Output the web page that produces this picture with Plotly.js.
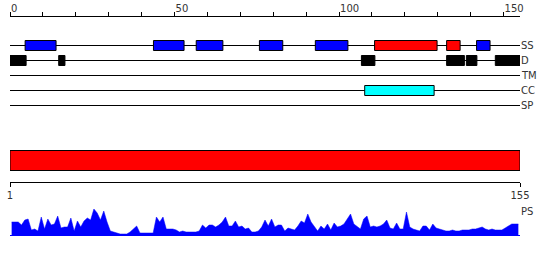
<!DOCTYPE html>
<html><head><meta charset="utf-8">
<script src="https://cdn.plot.ly/plotly-3.0.1.min.js"></script>
<style>html,body{margin:0;padding:0;background:#fff}#chart{width:550px;height:260px}</style>
</head><body><div id="chart"></div>
<script>
// ---- data ----
const trackNames = ['SS', 'D', 'TM', 'CC', 'SP'];
const seqLength = 155;
const topTickVals = [0, 10, 20, 30, 40, 50, 60, 70, 80, 90, 100, 110, 120, 130, 140, 150];
const topTickText = ['0', '', '', '', '', '50', '', '', '', '', '100', '', '', '', '', '150'];
const bottomTickVals = [1, 155];

const ssStart = [4.6, 43.6, 56.6, 75.8, 92.8, 110.8, 132.7, 141.8];
const ssEnd   = [14.0, 52.9, 64.7, 82.9, 102.7, 129.8, 136.8, 145.9];
const ssColor = ['#0000ff', '#0000ff', '#0000ff', '#0000ff', '#0000ff', '#ff0000', '#ff0000', '#0000ff'];

const dStart = [0, 14.8, 106.8, 132.7, 138.7, 147.5];
const dEnd   = [4.9, 16.7, 110.9, 138.1, 141.9, 155];

const ccStart = [107.8];
const ccEnd   = [128.9];

const domainStart = [1];
const domainEnd   = [155];

const psValues = [
  14, 14, 14, 11, 16, 17, 6, 7, 5, 19,
  7, 17, 11, 12, 20, 8, 9, 9, 18, 5,
  15, 9, 15, 18, 16, 27, 23, 16, 25, 14,
  5, 4, 3, 2, 2, 2, 4, 7, 10, 3,
  3, 3, 3, 3, 19, 14, 19, 7, 7, 7,
  6, 4, 5, 4, 4, 4, 4, 5, 11, 8,
  11, 11, 9, 11, 14, 19, 10, 10, 15, 9,
  10, 7, 8, 4, 4, 5, 9, 16, 10, 17,
  9, 11, 11, 5, 8, 7, 6, 10, 15, 13,
  22, 14, 9, 5, 10, 7, 12, 6, 13, 9,
  10, 12, 17, 22, 12, 9, 7, 17, 20, 9,
  10, 9, 10, 12, 16, 8, 7, 13, 7, 7,
  24, 9, 7, 6, 5, 10, 10, 6, 12, 8,
  7, 6, 5, 5, 6, 5, 5, 6, 6, 6,
  7, 7, 8, 9, 7, 6, 7, 6, 6, 6,
  8, 10, 12, 12, 12
];

// ---- layout constants (pixel y axis) ----
const trackY0 = 45.5, trackStep = 15, boxH = 10;
const trackY = trackNames.map((_, k) => trackY0 + trackStep * k);
const FONT = {family: 'DejaVu Sans', size: 10, color: '#333'};

function boxTrace(starts, ends, y, fill, lineColor) {
  return {
    type: 'bar', orientation: 'h',
    base: starts,
    x: starts.map((s, i) => ends[i] - s),
    y: starts.map(() => y),
    width: boxH,
    marker: {color: fill, line: {color: lineColor, width: 1}},
    xaxis: 'x', yaxis: 'y', hoverinfo: 'skip', showlegend: false
  };
}

const positions = psValues.map((_, i) => i + 0.5);

const traces = [
  boxTrace(ssStart, ssEnd, trackY[0], ssColor, '#000'),
  boxTrace(dStart, dEnd, trackY[1], '#000', '#000'),
  boxTrace(ccStart, ccEnd, trackY[3], '#00ffff', '#000'),
  {
    type: 'bar', orientation: 'h',
    base: domainStart, x: domainStart.map((s, i) => domainEnd[i] - s),
    y: [160.5], width: 20,
    marker: {color: '#ff0000', line: {color: '#000', width: 1}},
    xaxis: 'x2', yaxis: 'y', hoverinfo: 'skip', showlegend: false
  },
  {
    type: 'scatter', mode: 'lines', x: positions, y: psValues,
    fill: 'tozeroy', fillcolor: '#0000ff',
    line: {color: '#0000ff', width: 0.5},
    xaxis: 'x', yaxis: 'y2', hoverinfo: 'skip', showlegend: false
  }
];

const shapes = trackY.map(y => ({
  type: 'line', xref: 'x', yref: 'y', x0: 0, x1: seqLength, y0: y, y1: y,
  line: {color: '#000', width: 1}, layer: 'below'
}));
shapes.push({type: 'line', xref: 'x', yref: 'y', x0: 0, x1: 160, y0: 235.5, y1: 235.5,
  line: {color: '#0000ff', width: 1}});

const annotations = trackNames.map((t, k) => ({
  text: t, xref: 'x', yref: 'y', x: seqLength, y: trackY[k],
  xanchor: 'left', yanchor: 'middle', showarrow: false, font: FONT, xshift: -1
}));
annotations.push({text: 'PS', xref: 'x', yref: 'y', x: seqLength, y: 211,
  xanchor: 'left', yanchor: 'middle', showarrow: false, font: FONT, xshift: -1});

const layout = {
  width: 550, height: 260,
  margin: {l: 10, r: 30, t: 0, b: 0, pad: 0},
  paper_bgcolor: '#fff', plot_bgcolor: 'rgba(0,0,0,0)',
  showlegend: false, barmode: 'overlay',
  font: FONT,
  xaxis: {
    range: [0, seqLength], side: 'top', anchor: 'free', position: (260 - 15.5) / 260,
    showline: true, linecolor: '#000', linewidth: 1,
    ticks: 'outside', ticklen: 4, tickcolor: '#000', tickwidth: 1,
    tickvals: topTickVals, ticktext: topTickText,
    ticklabelposition: 'outside right',
    showgrid: false, zeroline: false, tickfont: FONT, fixedrange: true
  },
  xaxis2: {
    range: [1, seqLength], side: 'bottom', anchor: 'free', overlaying: 'x',
    position: (260 - 181.5) / 260,
    showline: true, linecolor: '#000', linewidth: 1,
    ticks: 'outside', ticklen: 4, tickcolor: '#000', tickwidth: 1,
    tickvals: bottomTickVals, ticktext: bottomTickVals.map(String),
    showgrid: false, zeroline: false, tickfont: FONT, fixedrange: true
  },
  yaxis: {range: [260, 0], domain: [0, 1], visible: false, fixedrange: true},
  yaxis2: {range: [0, 30], domain: [(260 - 236) / 260, (260 - 206) / 260],
    anchor: 'x', visible: false, fixedrange: true},
  shapes: shapes,
  annotations: annotations
};

Plotly.newPlot('chart', traces, layout, {staticPlot: true, displayModeBar: false});
</script>
</body></html>
